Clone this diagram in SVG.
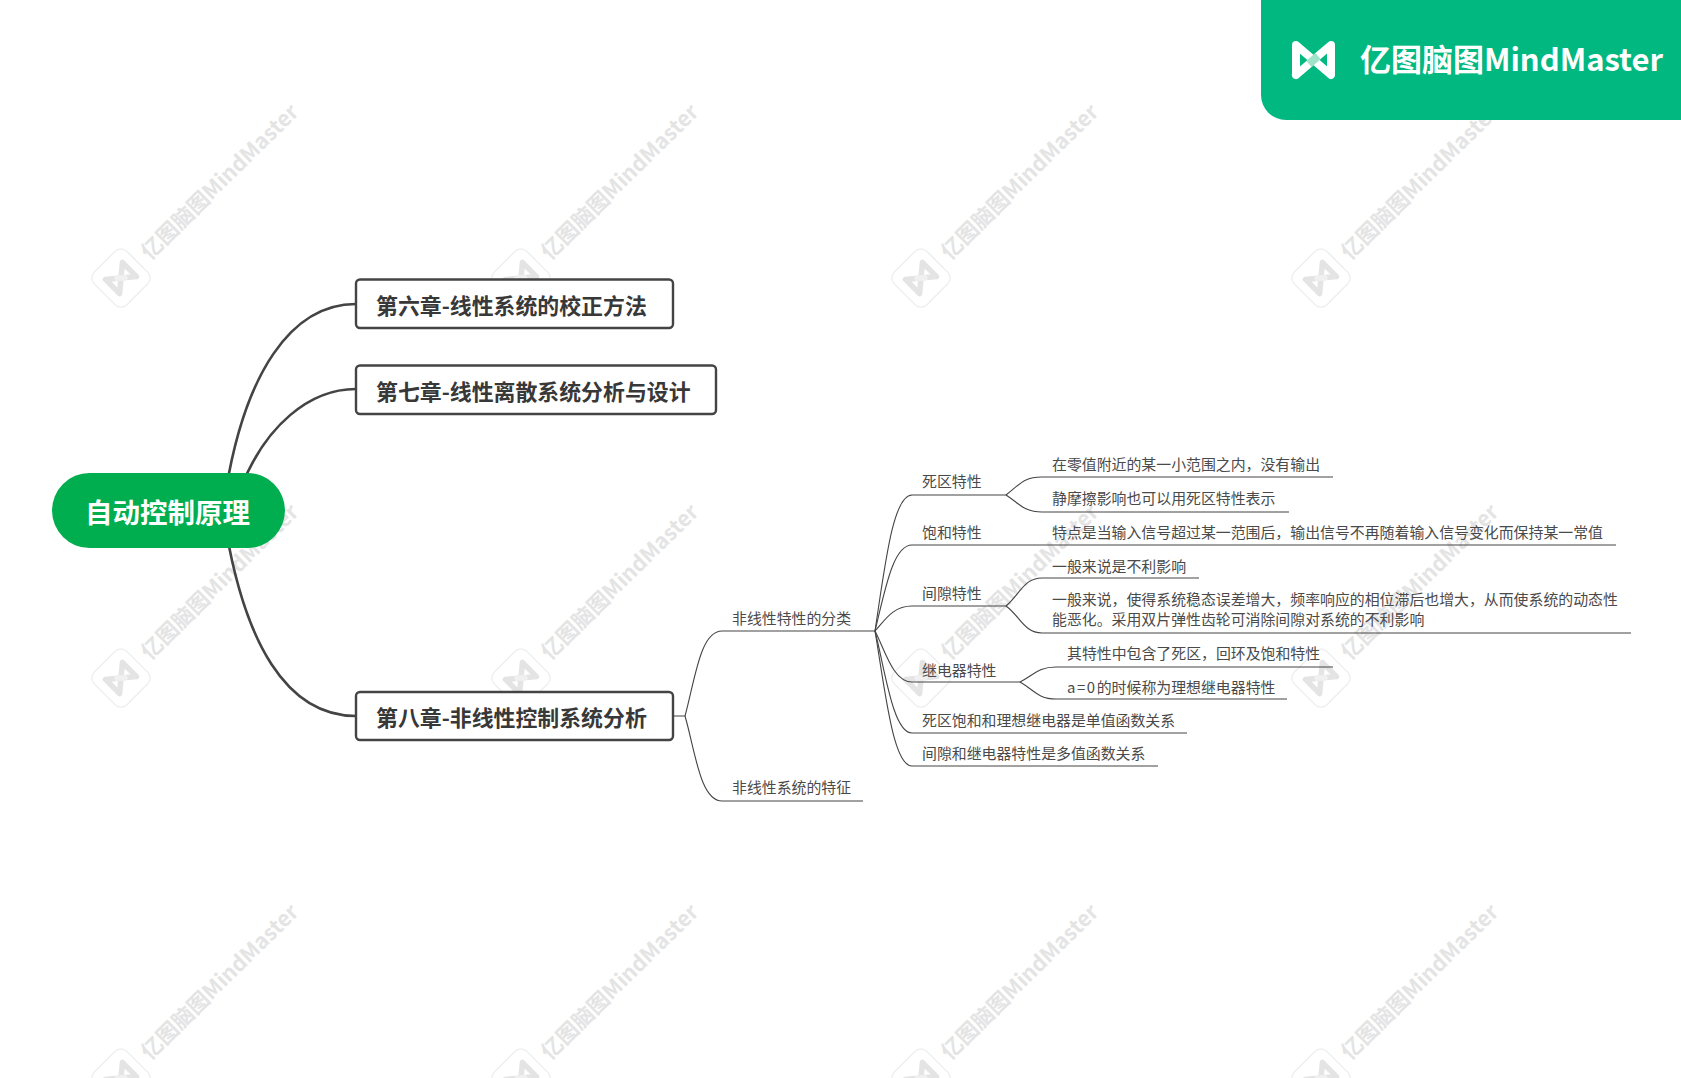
<svg xmlns="http://www.w3.org/2000/svg" xmlns:xlink="http://www.w3.org/1999/xlink" width="1681" height="1078" viewBox="0 0 1681 1078">
<style>
text{font-family:"Noto Sans CJK SC","Noto Sans",sans-serif}
.wm{font-size:21.5px;fill:#e4e4e4;font-weight:700}
.t{font-size:14.9px;fill:#4a4a4a}
.h{font-size:21.9px;font-weight:700;fill:#383838}
.box{fill:#fff;stroke:#444;stroke-width:2.4}
.thick{fill:none;stroke:#444;stroke-width:2.6}
.thin{fill:none;stroke:#444;stroke-width:1.1}
</style>
<defs>
<g id="wmark">
<rect x="-23" y="-23" width="46" height="46" rx="8" transform="rotate(45)" fill="#fff" stroke="#ececec" stroke-width="1.2"/>
<g transform="rotate(-45)" fill="none" stroke-linejoin="round" stroke-linecap="round" stroke-width="5.5">
<path d="M-12,10 L-12,-10 L12,10 L12,-10 L-12,10" stroke="#e4e4e4"/>
<path d="M-3,-2.5 L3,2.5" stroke="#f0f0f0"/>
</g>
<text class="wm" transform="translate(29,-17) rotate(-44.5)">亿图脑图MindMaster</text>
</g>
</defs>
<g id="watermarks">
<use xlink:href="#wmark" href="#wmark" x="121" y="278"/>
<use xlink:href="#wmark" href="#wmark" x="521" y="278"/>
<use xlink:href="#wmark" href="#wmark" x="921" y="278"/>
<use xlink:href="#wmark" href="#wmark" x="1321" y="278"/>
<use xlink:href="#wmark" href="#wmark" x="121" y="678"/>
<use xlink:href="#wmark" href="#wmark" x="521" y="678"/>
<use xlink:href="#wmark" href="#wmark" x="921" y="678"/>
<use xlink:href="#wmark" href="#wmark" x="1321" y="678"/>
<use xlink:href="#wmark" href="#wmark" x="121" y="1078"/>
<use xlink:href="#wmark" href="#wmark" x="521" y="1078"/>
<use xlink:href="#wmark" href="#wmark" x="921" y="1078"/>
<use xlink:href="#wmark" href="#wmark" x="1321" y="1078"/>
</g>
<g id="connectors">
<path class="thick" d="M226,490 C245,375 290,304 356,304"/>
<path class="thick" d="M240,490 C265,425 310,389 356,389"/>
<path class="thick" d="M226,530 C245,640 285,716 356,716"/>
<path class="thin" d="M673,716 H685 C695,680 700,631 722,631 H876"/>
<path class="thin" d="M685,716 C695,750 700,801 722,801 H863"/>
<path class="thin" d="M875,631 C885,565 893,495 912,495 H1006"/>
<path class="thin" d="M875,631 C885,590 893,545 912,545 H1616"/>
<path class="thin" d="M875,631 C885,620 893,606 912,606 H1006"/>
<path class="thin" d="M875,631 C885,650 893,682 912,682 H1020"/>
<path class="thin" d="M875,631 C885,670 893,733 912,733 H1187"/>
<path class="thin" d="M875,631 C885,690 893,766 912,766 H1158"/>
<path class="thin" d="M1006,495 C1020,484 1024,477 1042,477 H1333"/>
<path class="thin" d="M1006,495 C1020,504 1024,512 1042,512 H1289"/>
<path class="thin" d="M1006,606 C1020,594 1024,578 1042,578 H1199"/>
<path class="thin" d="M1006,606 C1020,616 1024,633 1042,633 H1631"/>
<path class="thin" d="M1020,682 C1034,675 1038,667 1056,667 H1333"/>
<path class="thin" d="M1020,682 C1034,690 1038,699 1056,699 H1287"/>
</g>
<g id="root"><rect x="52" y="473" width="233" height="75" rx="37.5" fill="#00ae4f"/><text x="167.5" y="523" text-anchor="middle" font-size="27.5" font-weight="700" fill="#fff">自动控制原理</text></g>
<g id="ch6"><rect class="box" x="356" y="279.5" width="317" height="48.5" rx="4"/><text class="h" x="376" y="314">第六章-线性系统的校正方法</text></g>
<g id="ch7"><rect class="box" x="356" y="365.5" width="360" height="48.5" rx="4"/><text class="h" x="376" y="400">第七章-线性离散系统分析与设计</text></g>
<g id="ch8"><rect class="box" x="356" y="692" width="317" height="48" rx="4"/><text class="h" x="376" y="726">第八章-非线性控制系统分析</text></g>
<g id="n-class"><text class="t" x="732" y="623.5">非线性特性的分类</text></g>
<g id="n-feature"><text class="t" x="732" y="792.5">非线性系统的特征</text></g>
<g id="n-dead"><text class="t" x="922" y="487">死区特性</text></g>
<g id="n-sat"><text class="t" x="922" y="538">饱和特性</text></g>
<g id="n-gap"><text class="t" x="922" y="599">间隙特性</text></g>
<g id="n-relay"><text class="t" x="922" y="676">继电器特性</text></g>
<g id="n-single"><text class="t" x="922" y="725.5">死区饱和和理想继电器是单值函数关系</text></g>
<g id="n-multi"><text class="t" x="922" y="759">间隙和继电器特性是多值函数关系</text></g>
<g id="d1"><text class="t" x="1052" y="470">在零值附近的某一小范围之内，没有输出</text></g>
<g id="d2"><text class="t" x="1052" y="504">静摩擦影响也可以用死区特性表示</text></g>
<g id="s1"><text class="t" x="1052" y="538">特点是当输入信号超过某一范围后，输出信号不再随着输入信号变化而保持某一常值</text></g>
<g id="g1"><text class="t" x="1052" y="572">一般来说是不利影响</text></g>
<g id="g2"><text class="t" x="1052" y="604.5">一般来说，使得系统稳态误差增大，频率响应的相位滞后也增大，从而使系统的动态性</text><text class="t" x="1052" y="625">能恶化。采用双片弹性齿轮可消除间隙对系统的不利影响</text></g>
<g id="r1"><text class="t" x="1067" y="659">其特性中包含了死区，回环及饱和特性</text></g>
<g id="r2"><text class="t" x="1067" y="693"><tspan letter-spacing="1.6">a=0</tspan>的时候称为理想继电器特性</text></g>
<g id="banner">
<path d="M1261,0 H1681 V120 H1286 A25,25 0 0 1 1261,95 Z" fill="#00b880"/>
<g fill="none" stroke-linecap="round" stroke-linejoin="round" stroke-width="8">
<path d="M1296,75 L1296,45 L1331,75 L1331,45 L1318,56 M1309,64 L1296,75" stroke="#fff"/>
<path d="M1318,56 L1309,64" stroke="#9fe3ca" stroke-linecap="butt"/>
</g>
<text x="1360" y="71" font-size="31" font-weight="700" fill="#fff">亿图脑图MindMaster</text>
</g>
</svg>
